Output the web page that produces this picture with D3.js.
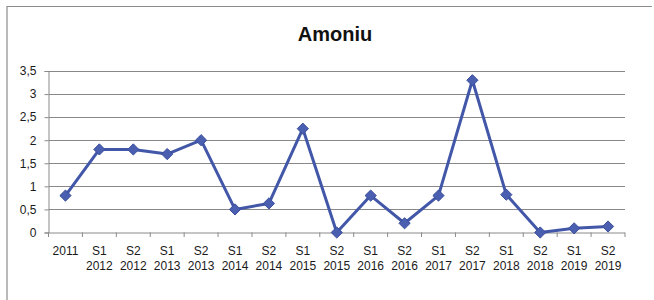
<!DOCTYPE html>
<html><head><meta charset="utf-8">
<script src="https://cdn.jsdelivr.net/npm/d3@7"></script>
<style>
html,body{margin:0;padding:0;background:#fff;}
svg{display:block;}
</style></head>
<body>
<svg id="chart" width="654" height="300"></svg>
<script>
const title = "Amoniu";
const categories = [
  ["2011"], ["S1","2012"], ["S2","2012"], ["S1","2013"], ["S2","2013"],
  ["S1","2014"], ["S2","2014"], ["S1","2015"], ["S2","2015"], ["S1","2016"],
  ["S2","2016"], ["S1","2017"], ["S2","2017"], ["S1","2018"], ["S2","2018"],
  ["S1","2019"], ["S2","2019"]
];
const values = [0.8, 1.8, 1.8, 1.7, 2.0, 0.5, 0.63, 2.25, 0.0, 0.8, 0.2, 0.8, 3.3, 0.82, 0.0, 0.09, 0.13];
const yTicks = [0, 0.5, 1, 1.5, 2, 2.5, 3, 3.5];

const svg = d3.select("#chart");
const font = "'Liberation Sans', Arial, sans-serif";
const m = {left: 48.5, right: 625, top: 71, bottom: 232.5};

// outer frame (left & top)
svg.append("path").attr("d", "M7,300 V6.5 H652")
  .attr("fill","none").attr("stroke","#8c8c8c").attr("stroke-width",1.2);

const x = d3.scaleBand().domain(categories.map((d,i)=>i)).range([m.left, m.right]).paddingInner(0).paddingOuter(0);
const y = d3.scaleLinear().domain([0, 3.5]).range([m.bottom, m.top]);

// gridlines
svg.append("g").selectAll("line").data(yTicks.filter(t=>t>0)).join("line")
  .attr("x1", m.left).attr("x2", m.right)
  .attr("y1", d=>Math.round(y(d))+0.5).attr("y2", d=>Math.round(y(d))+0.5)
  .attr("stroke","#888").attr("stroke-width",1);

// y axis
const yAxis = d3.axisLeft(y).tickValues(yTicks).tickSize(4).tickPadding(8)
  .tickFormat(d=>d3.format("")(d).replace(".",","));
const gy = svg.append("g").attr("transform",`translate(${m.left},0)`).call(yAxis);
gy.select(".domain").attr("stroke","#8a8a8a");
gy.selectAll(".tick line").attr("stroke","#8a8a8a");
gy.selectAll("text").attr("font-family",font).attr("font-size","12px").attr("fill","#1a1a1a");

// x axis
const gx = svg.append("g").attr("transform",`translate(0,${m.bottom})`);
gx.append("line").attr("x1",m.left).attr("x2",m.right).attr("y1",0.5).attr("y2",0.5).attr("stroke","#8a8a8a");
const bounds = d3.range(categories.length+1).map(i=> i<categories.length ? x(i) : m.right);
gx.selectAll("line.tk").data(bounds).join("line").attr("class","tk")
  .attr("x1",d=>d).attr("x2",d=>d).attr("y1",0).attr("y2",4.5).attr("stroke","#8a8a8a");
const lbl = gx.selectAll("text").data(categories).join("text")
  .attr("x",(d,i)=>x(i)+x.bandwidth()/2)
  .attr("text-anchor","middle").attr("font-family",font).attr("font-size","12px").attr("fill","#1a1a1a");
lbl.selectAll("tspan").data(d=>d).join("tspan")
  .attr("x",function(){return this.parentNode.getAttribute("x");})
  .attr("y",(d,j)=>22 + j*15.5)
  .text(d=>d);

// line
const line = d3.line().x((d,i)=>x(i)+x.bandwidth()/2).y(d=>y(d));
svg.append("path").datum(values).attr("d", line)
  .attr("fill","none").attr("stroke","#4257a8").attr("stroke-width",3).attr("stroke-linejoin","round");

// markers
svg.append("g").selectAll("path").data(values).join("path")
  .attr("d", d3.symbol(d3.symbolDiamond2, 80)())
  .attr("transform",(d,i)=>`translate(${x(i)+x.bandwidth()/2},${y(d)})`)
  .attr("fill","#4a5fb0").attr("stroke","#3a4e9c").attr("stroke-width",1);

// title
svg.append("text").attr("x",335).attr("y",41).attr("text-anchor","middle")
  .attr("font-family",font).attr("font-weight","bold").attr("font-size","20px").attr("fill","#111")
  .text(title);
</script>
</body></html>
